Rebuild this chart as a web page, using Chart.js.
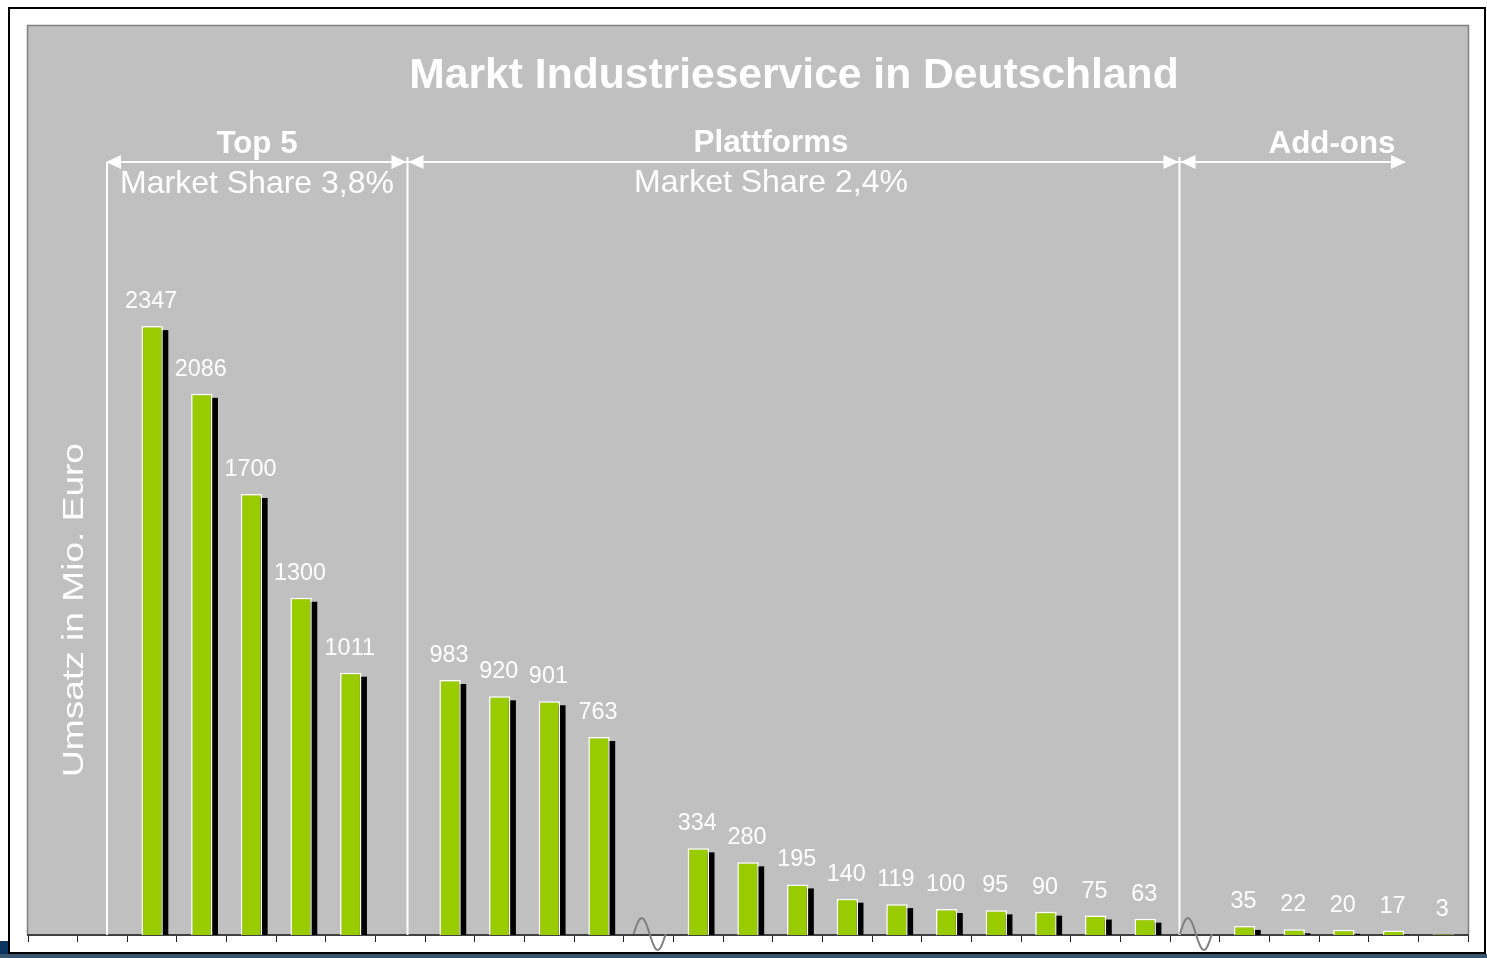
<!DOCTYPE html>
<html lang="de">
<head>
<meta charset="utf-8">
<title>Markt Industrieservice in Deutschland</title>
<script src="https://cdn.jsdelivr.net/npm/chart.js@4.4.1/dist/chart.umd.min.js"></script>
<style>
    html, body { margin: 0; padding: 0; background: #ffffff; }
    canvas { display: block; }
</style>
</head>
<body>
<canvas id="dataChart" width="1487" height="958"></canvas>
<script>
// Anbieter-Slots (leere Slots = Abstände / Achsenbrüche)
const categories = [
    "", "",
    "Top 1", "Top 2", "Top 3", "Top 4", "Top 5",
    "",
    "Plattform 1", "Plattform 2", "Plattform 3", "Plattform 4",
    "",
    "Plattform 5", "Plattform 6", "Plattform 7", "Plattform 8", "Plattform 9",
    "Plattform 10", "Plattform 11", "Plattform 12", "Plattform 13", "Plattform 14",
    "",
    "Add-on 1", "Add-on 2", "Add-on 3", "Add-on 4", "Add-on 5"
];
const umsatz = [
    null, null,
    2347, 2086, 1700, 1300, 1011,
    null,
    983, 920, 901, 763,
    null,
    334, 280, 195, 140, 119, 100, 95, 90, 75, 63,
    null,
    35, 22, 20, 17, 3
];
const yMin = 0;
const yMax = 3500;
const breakSlots = [12, 23];

const chartTitle = "Markt Industrieservice in Deutschland";
const axisTitle = "Umsatz in Mio. Euro";
const sectionNames = ["Top 5", "Plattforms", "Add-ons"];
const sectionShares = ["Market Share 3,8%", "Market Share 2,4%", ""];

const FONT = '"Liberation Sans", Arial, Helvetica, sans-serif';

function arrowHead(ctx, tipX, y, dir) {
    // dir = -1 points left, +1 points right
    ctx.beginPath();
    ctx.moveTo(tipX, y);
    ctx.lineTo(tipX - dir * 15, y - 7);
    ctx.lineTo(tipX - dir * 15, y + 7);
    ctx.closePath();
    ctx.fill();
}

// Rahmen, graue Fläche, Klammern und Texte
const decorPlugin = {
    id: "decor",
    beforeDraw(chart) {
        const ctx = chart.ctx;
        ctx.save();
        ctx.fillStyle = "#ffffff";
        ctx.fillRect(0, 0, chart.width, chart.height);
        ctx.fillStyle = "#0b3460";
        ctx.fillRect(0, 941, 9, 17);
        ctx.fillStyle = "#3a5570";
        ctx.fillRect(0, 954, chart.width, 4);
        ctx.strokeStyle = "#000000";
        ctx.lineWidth = 2;
        ctx.strokeRect(9, 8, 1476, 945);

        const a = chart.chartArea;
        ctx.fillStyle = "#c0c0c0";
        ctx.fillRect(a.left - 1, 25, a.right - a.left + 2, a.bottom - 25);
        ctx.strokeStyle = "#808080";
        ctx.lineWidth = 1.5;
        ctx.beginPath();
        ctx.moveTo(a.left - 0.5, a.bottom);
        ctx.lineTo(a.left - 0.5, 25.5);
        ctx.lineTo(a.right + 0.5, 25.5);
        ctx.lineTo(a.right + 0.5, a.bottom);
        ctx.stroke();
        ctx.restore();
    },
    beforeDatasetsDraw(chart) {
        const ctx = chart.ctx;
        const a = chart.chartArea;
        ctx.save();
        ctx.fillStyle = "#ffffff";
        ctx.textAlign = "center";
        ctx.textBaseline = "alphabetic";

        ctx.font = "bold 42.6px " + FONT;
        ctx.fillText(chartTitle, 794, 88);

        ctx.font = "bold 31.3px " + FONT;
        ctx.fillText(sectionNames[0], 257, 153);
        ctx.fillText(sectionNames[1], 771, 152);
        ctx.fillText(sectionNames[2], 1332, 153);

        ctx.font = "32px " + FONT;
        ctx.fillText(sectionShares[0], 257, 193);
        ctx.fillText(sectionShares[1], 771, 192);

        // Klammern mit Pfeilen
        ctx.strokeStyle = "#ffffff";
        ctx.lineWidth = 2;
        ctx.beginPath();
        ctx.moveTo(107, 162); ctx.lineTo(1405, 162);
        ctx.moveTo(107, 162); ctx.lineTo(107, a.bottom);
        ctx.moveTo(407.5, 157); ctx.lineTo(407.5, a.bottom);
        ctx.moveTo(1179.5, 157); ctx.lineTo(1179.5, a.bottom);
        ctx.stroke();
        arrowHead(ctx, 106, 162, -1);
        arrowHead(ctx, 406.5, 162, 1);
        arrowHead(ctx, 408.5, 162, -1);
        arrowHead(ctx, 1178.5, 162, 1);
        arrowHead(ctx, 1180.5, 162, -1);
        arrowHead(ctx, 1406, 162, 1);

        // Achsentitel (gestreckt wie im Original)
        ctx.font = "29px " + FONT;
        const w = ctx.measureText(axisTitle).width;
        ctx.translate(83, 610);
        ctx.rotate(-Math.PI / 2);
        ctx.scale(334 / w, 1);
        ctx.fillText(axisTitle, 0, 0);
        ctx.restore();

        // Schatten der Balken
        const meta = chart.getDatasetMeta(0);
        ctx.save();
        ctx.beginPath();
        ctx.rect(a.left, a.top, a.right - a.left, a.bottom - a.top);
        ctx.clip();
        ctx.fillStyle = "#000000";
        meta.data.forEach((bar, i) => {
            if (umsatz[i] === null) return;
            const p = bar.getProps(["x", "y", "base", "width"], true);
            ctx.fillRect(p.x - p.width / 2 + 5.5, p.y + 4, p.width, p.base - p.y);
        });
        ctx.restore();
    },
    afterDatasetsDraw(chart) {
        const ctx = chart.ctx;
        const meta = chart.getDatasetMeta(0);
        ctx.save();
        ctx.fillStyle = "#ffffff";
        ctx.font = "23.4px " + FONT;
        ctx.textAlign = "center";
        ctx.textBaseline = "alphabetic";
        meta.data.forEach((bar, i) => {
            if (umsatz[i] === null) return;
            const p = bar.getProps(["x", "y"], true);
            ctx.fillText(String(umsatz[i]), p.x - 1, p.y - 18);
        });
        ctx.restore();
    },
    afterDraw(chart) {
        // Achsenbruch-Symbole
        const ctx = chart.ctx;
        const xScale = chart.scales.x;
        const base = chart.chartArea.bottom - 1;
        ctx.save();
        ctx.strokeStyle = "#808080";
        ctx.lineWidth = 2;
        breakSlots.forEach(slot => {
            const cx = xScale.getPixelForValue(slot) + 1;
            ctx.beginPath();
            for (let t = 0; t <= 32; t++) {
                const x = cx - 16 + t;
                const y = base - 16 * Math.sin(2 * Math.PI * t / 32);
                if (t === 0) ctx.moveTo(x, y); else ctx.lineTo(x, y);
            }
            ctx.stroke();
        });
        ctx.restore();
    }
};

const ctx = document.getElementById("dataChart").getContext("2d");

new Chart(ctx, {
    type: "bar",
    data: {
        labels: categories,
        datasets: [{
            label: "Umsatz in Mio. Euro",
            data: umsatz,
            backgroundColor: "#99cc00",
            borderColor: "#ffffff",
            borderWidth: 1.5,
            barPercentage: 0.43,
            categoryPercentage: 1,
            clip: 0
        }]
    },
    options: {
        responsive: false,
        animation: false,
        events: [],
        layout: {
            padding: { left: 28, right: 19, top: 27, bottom: 16 }
        },
        plugins: {
            legend: { display: false },
            tooltip: { enabled: false },
            title: { display: false }
        },
        scales: {
            x: {
                grid: {
                    offset: true,
                    drawOnChartArea: false,
                    drawTicks: true,
                    tickLength: 7,
                    color: "#222222",
                    lineWidth: 1
                },
                border: { display: true, color: "#404040", width: 2 },
                ticks: { display: false }
            },
            y: {
                display: false,
                min: yMin,
                max: yMax
            }
        }
    },
    plugins: [decorPlugin]
});
</script>
</body>
</html>
